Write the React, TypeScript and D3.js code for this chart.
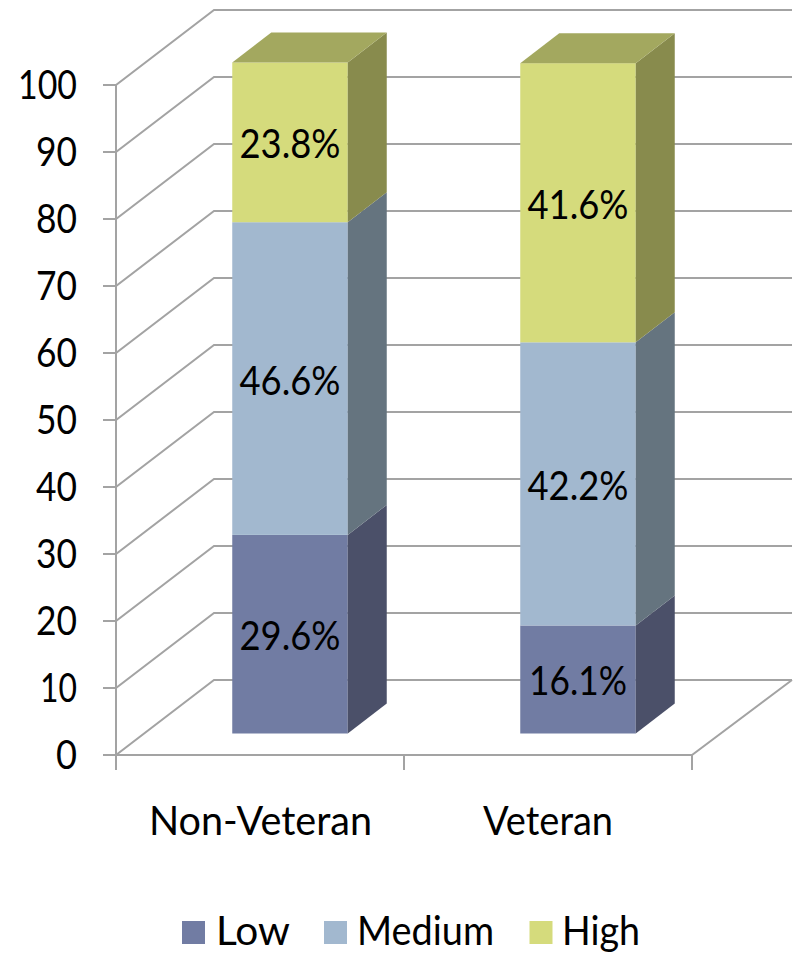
import React from "react";
import * as d3 from "d3";

const categories = ["Non-Veteran", "Veteran"];
const seriesNames = ["Low", "Medium", "High"];
const lowValues = [29.6, 16.1];
const mediumValues = [46.6, 42.2];
const highValues = [23.8, 41.6];
const yTicks = [0, 10, 20, 30, 40, 50, 60, 70, 80, 90, 100];

const frontColors = ["#717ca3", "#a2b8cf", "#d5db7c"];
const sideColors = ["#4b5069", "#65747f", "#888b4d"];
const topColor = "#a3a85f";
const gridColor = "#a3a3a3";
const FONT = "Lato, 'Noto Sans', sans-serif";

const tickWidth = (t: number) => (t === 100 ? 59 : t === 10 ? 37 : t === 0 ? 21 : 41);
const pctWidth = (v: number) => (v < 20 ? 98 : 101);
const catWidths = [223, 130];
const catCenters = [260.5, 548];
const legendX = [182, 324, 529.5];
const legendTextX = [216, 357, 562];
const legendWidths = [74, 137, 78];

export default function App() {
  const y = d3.scaleLinear().domain([0, 100]).range([755, 85]);
  const x = d3.scaleBand<string>().domain(categories).range([116, 692]);
  const barY = d3.scaleLinear().domain([0, 100]).range([733.5, 62.5]);
  const wall = { dx: 98, dy: -75 };
  const barDepth = { dx: 39, dy: -30 };
  const barW = 115.5;
  const series = [lowValues, mediumValues, highValues];
  const stack = d3
    .stack<number>()
    .keys(["0", "1", "2"])
    .value((i, k) => series[+k][i])(d3.range(categories.length));

  const barLeft = (c: string) => x(c)! + x.bandwidth() / 2 + 30 - barW / 2;
  const poly = (pts: number[][]) => pts.map((p) => p.join(",")).join(" ");

  return (
    <svg
      width={794}
      height={953}
      style={{ position: "absolute", left: 0, top: 0, background: "#fff" }}
      fontFamily={FONT}
    >
      {/* wall and floor */}
      <g fill="none" stroke={gridColor} strokeWidth={2}>
        {yTicks.map((t) => (
          <polyline
            key={t}
            points={poly([
              [103, y(t)],
              [116, y(t)],
              [116 + wall.dx, y(t) + wall.dy],
              [792, y(t) + wall.dy],
            ])}
          />
        ))}
        <line x1={116} x2={116} y1={y(100)} y2={770} />
        <polyline points={poly([[116, y(0)], [692, y(0)], [792, y(0) + wall.dy]])} />
        {[116, 404, 692].map((t) => (
          <line key={t} x1={t} x2={t} y1={y(0)} y2={770} />
        ))}
      </g>

      {/* bars */}
      {categories.map((c, i) => {
        const l = barLeft(c);
        const r = l + barW;
        return (
          <g key={c}>
            {stack.map((s, k) => {
              const y0 = barY(s[i][0]);
              const y1 = barY(s[i][1]);
              return (
                <g key={k}>
                  <rect x={l} y={y1} width={barW} height={y0 - y1} fill={frontColors[k]} />
                  <polygon
                    fill={sideColors[k]}
                    points={poly([
                      [r, y0],
                      [r, y1],
                      [r + barDepth.dx, y1 + barDepth.dy],
                      [r + barDepth.dx, y0 + barDepth.dy],
                    ])}
                  />
                </g>
              );
            })}
            <polygon
              fill={topColor}
              points={poly([
                [l, barY(stack[2][i][1])],
                [r, barY(stack[2][i][1])],
                [r + barDepth.dx, barY(stack[2][i][1]) + barDepth.dy],
                [l + barDepth.dx, barY(stack[2][i][1]) + barDepth.dy],
              ])}
            />
            {stack.map((s, k) => (
              <text
                key={k}
                x={l + barW / 2}
                y={barY((s[i][0] + s[i][1]) / 2) + 16}
                textAnchor="middle"
                fontSize={40}
                fill="#000"
                textLength={pctWidth(series[k][i])}
                lengthAdjust="spacingAndGlyphs"
              >
                {`${series[k][i].toFixed(1)}%`}
              </text>
            ))}
          </g>
        );
      })}

      {/* y labels */}
      {yTicks.map((t) => (
        <text
          key={t}
          x={77}
          y={y(t) + 14}
          textAnchor="end"
          fontSize={40}
          fill="#000"
          textLength={tickWidth(t)}
          lengthAdjust="spacingAndGlyphs"
        >
          {t}
        </text>
      ))}

      {/* category labels */}
      {categories.map((c, i) => (
        <text
          key={c}
          x={catCenters[i]}
          y={835}
          textAnchor="middle"
          fontSize={40}
          fill="#000"
          textLength={catWidths[i]}
          lengthAdjust="spacingAndGlyphs"
        >
          {c}
        </text>
      ))}

      {/* legend */}
      {seriesNames.map((n, k) => (
        <g key={n}>
          <rect x={legendX[k]} y={921} width={23} height={23} fill={frontColors[k]} />
          <text
            x={legendTextX[k]}
            y={945}
            fontSize={40}
            fill="#000"
            textLength={legendWidths[k]}
            lengthAdjust="spacingAndGlyphs"
          >
            {n}
          </text>
        </g>
      ))}
    </svg>
  );
}
